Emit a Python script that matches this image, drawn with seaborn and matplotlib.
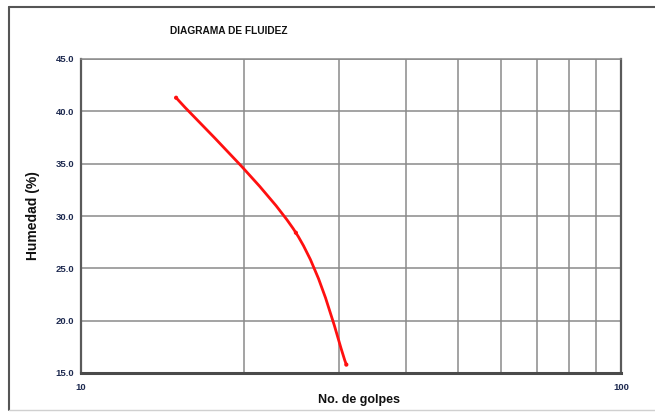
import numpy as np
import matplotlib
matplotlib.use("Agg")
import matplotlib.pyplot as plt
from matplotlib.path import Path
from matplotlib.patches import PathPatch
from matplotlib.lines import Line2D
from matplotlib.ticker import FixedLocator, NullFormatter
import seaborn as sns

# Ensayo de límite líquido
golpes = [15, 25, 31]
humedad = [41.3, 28.4, 15.8]

y_ticks = [15.0, 20.0, 25.0, 30.0, 35.0, 40.0, 45.0]
x_major = [10, 100]
x_minor = [20, 30, 40, 50, 60, 70, 80, 90]

sns.set_style("white")
plt.rcParams["font.family"] = ["Liberation Sans Narrow", "Liberation Sans", "DejaVu Sans"]

fig = plt.figure(figsize=(6.55, 4.12), dpi=100)
ax = fig.add_axes([81 / 655, 1 - 373 / 412, 540 / 655, 314 / 412])

ax.set_xscale("log")
ax.set_xlim(10, 100)
ax.set_ylim(15, 45)

# Grid
ax.xaxis.set_major_locator(FixedLocator(x_major))
ax.xaxis.set_minor_locator(FixedLocator(x_minor))
ax.xaxis.set_minor_formatter(NullFormatter())
ax.set_xticklabels([str(v) for v in x_major])
ax.set_yticks(y_ticks)
ax.set_yticklabels([f"{v:.1f}" for v in y_ticks])
ax.grid(True, which="both", axis="x", color="#8a8a8a", lw=1.1)
ax.grid(True, which="major", axis="y", color="#8a8a8a", lw=1.1)
ax.set_axisbelow(True)

# Smoothed curve (cubic Bezier through the points, computed on log-x)
lx = np.log10(golpes)
hy = np.array(humedad, dtype=float)
pts = np.column_stack([lx, hy])
n = len(pts)
verts = [pts[0]]
codes = [Path.MOVETO]
for i in range(n - 1):
    p_prev = pts[i - 1] if i > 0 else pts[i]
    p_next = pts[i + 2] if i + 2 < n else pts[i + 1]
    c1 = pts[i] + (pts[i + 1] - p_prev) / 6
    c2 = pts[i + 1] - (p_next - pts[i]) / 6
    verts += [c1, c2, pts[i + 1]]
    codes += [Path.CURVE4] * 3
verts = np.array(verts)
verts[:, 0] = 10 ** verts[:, 0]
ax.add_patch(PathPatch(Path(verts, codes), fill=False, edgecolor="#ff1010",
                       lw=2.0, capstyle="round", joinstyle="round", zorder=3))
sns.scatterplot(x=golpes, y=humedad, color="#ff1010", s=9, edgecolor="none",
                ax=ax, zorder=4)

# Spines
for side, col, lw in [("left", "#5a5a5a", 1.6), ("bottom", "#4a4a4a", 2.2),
                      ("right", "#5a5a5a", 1.6), ("top", "#8a8a8a", 1.1)]:
    ax.spines[side].set_visible(True)
    ax.spines[side].set_color(col)
    ax.spines[side].set_linewidth(lw)

tick_col = "#1e2a50"
ax.tick_params(axis="y", which="major", direction="out", length=3, width=1,
               color="#222222", labelsize=6.8, labelcolor=tick_col, pad=2)
ax.tick_params(axis="x", which="major", direction="out", length=3, width=1,
               color="#222222", labelsize=6.8, labelcolor=tick_col, pad=4)
ax.tick_params(axis="x", which="minor", direction="out", length=3, width=1,
               color="#222222")
for lab in ax.get_xticklabels() + ax.get_yticklabels():
    lab.set_fontweight("bold")

ax.set_xlabel("No. de golpes", fontsize=9, fontweight="bold", color="#111111")
ax.xaxis.set_label_coords((359 - 81) / 540, -(400 - 373) / 314)
ax.xaxis.label.set_va("center")
ax.set_ylabel("Humedad (%)", fontsize=10, fontweight="bold", color="#111111")
ax.yaxis.set_label_coords(-(81 - 33) / 540, 0.5)
ax.yaxis.label.set_va("center")

fig.text(229 / 655, 1 - 31 / 412, "DIAGRAMA DE FLUIDEZ", ha="center", va="center",
         fontsize=7.3, fontweight="bold", color="#111111")

# Outer frame
fig.add_artist(Line2D([9 / 655, 9 / 655], [1 - 410 / 412, 1 - 7 / 412],
                      transform=fig.transFigure, color="#555555", lw=1.5))
fig.add_artist(Line2D([9 / 655, 1.0], [1 - 7 / 412, 1 - 7 / 412],
                      transform=fig.transFigure, color="#555555", lw=1.5))
fig.add_artist(Line2D([9 / 655, 1.0], [1 - 410 / 412, 1 - 410 / 412],
                      transform=fig.transFigure, color="#d0d0d0", lw=1.0))

fig.savefig("out.png", dpi=100)
